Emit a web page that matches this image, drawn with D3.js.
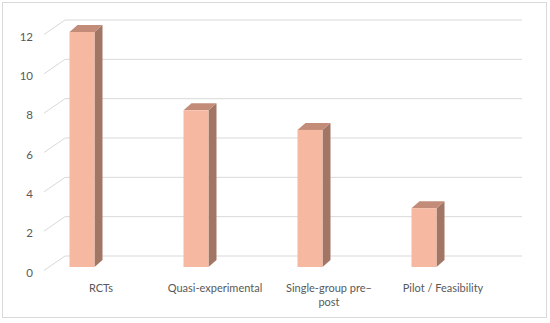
<!DOCTYPE html>
<html>
<head>
<meta charset="utf-8">
<script src="https://cdn.jsdelivr.net/npm/d3@7"></script>
<style>
  body { margin: 0; background: #fff; }
  text { font-family: Lato, "Open Sans", sans-serif; fill: #595959; }
</style>
</head>
<body>
<svg width="550" height="323"></svg>
<script>
// chart data
var categories = ["RCTs", "Quasi-experimental", "Single-group pre\u2013post", "Pilot / Feasibility"];
var counts = [12, 8, 7, 3];
var yTicks = [0, 2, 4, 6, 8, 10, 12];

var svg = d3.select("svg");

// outer frame
svg.append("rect")
    .attr("x", 2.5).attr("y", 2.5)
    .attr("width", 544).attr("height", 315)
    .attr("fill", "#fff")
    .attr("stroke", "#d9d9d9");

// 3d wall depth offset and bar depth offset
var wallDx = 21, wallDy = -14.5;
var barDx = 8, barDy = -7;

var x = d3.scaleBand()
    .domain(categories)
    .range([44, 500]);

var yBack = d3.scaleLinear().domain([0, 12]).range([256, 20]);
var yBar = d3.scaleLinear().domain([0, 12]).range([267, 32]);

// gridlines on back wall plus diagonal on side wall
var grid = svg.append("g")
    .attr("stroke", "#d9d9d9")
    .attr("fill", "none");

grid.selectAll("polyline")
    .data(yTicks)
    .enter().append("polyline")
      .attr("points", function(d) {
        var yb = yBack(d);
        return [[44, yb - wallDy], [44 + wallDx, yb], [522, yb]].join(" ");
      });

// y tick labels
svg.append("g")
    .attr("font-size", 11.5)
    .attr("text-anchor", "end")
  .selectAll("text")
  .data(yTicks)
  .enter().append("text")
    .attr("x", 33)
    .attr("y", function(d) { return yBack(d) - wallDy + 2; })
    .attr("dy", "0.35em")
    .text(function(d) { return d; });

// bars
var barW = 25, barOff = 25.5;
var bars = svg.append("g")
  .selectAll("g")
  .data(categories)
  .enter().append("g");

// side face
bars.append("path")
    .attr("fill", "#a17665")
    .attr("d", function(d, i) {
      var x1 = x(d) + barOff + barW, yt = yBar(counts[i]), yb = yBar(0);
      return "M" + x1 + "," + yt + "L" + (x1 + barDx) + "," + (yt + barDy) +
        "L" + (x1 + barDx) + "," + (yb + barDy) + "L" + x1 + "," + yb + "Z";
    });

// top face
bars.append("path")
    .attr("fill", "#c28c79")
    .attr("d", function(d, i) {
      var x0 = x(d) + barOff, yt = yBar(counts[i]);
      return "M" + x0 + "," + yt + "L" + (x0 + barDx) + "," + (yt + barDy) +
        "L" + (x0 + barW + barDx) + "," + (yt + barDy) + "L" + (x0 + barW) + "," + yt + "Z";
    });

// front face
bars.append("rect")
    .attr("fill", "#f6b8a1")
    .attr("x", function(d) { return x(d) + barOff; })
    .attr("y", function(d, i) { return yBar(counts[i]); })
    .attr("width", barW)
    .attr("height", function(d, i) { return yBar(0) - yBar(counts[i]); });

// category labels, wrap the long one
var labels = svg.append("g")
    .attr("font-size", 11)
    .attr("text-anchor", "middle")
  .selectAll("text")
  .data(categories)
  .enter().append("text")
    .attr("x", function(d) { return x(d) + x.bandwidth() / 2; })
    .attr("y", 288);

labels.each(function(d) {
  var lines = d.indexOf("pre\u2013post") >= 0 ? ["Single-group pre\u2013", "post"] : [d];
  var t = d3.select(this);
  lines.forEach(function(l, j) {
    t.append("tspan")
      .attr("x", t.attr("x"))
      .attr("dy", j === 0 ? "0.35em" : "1.25em")
      .text(l);
  });
});
</script>
</body>
</html>
